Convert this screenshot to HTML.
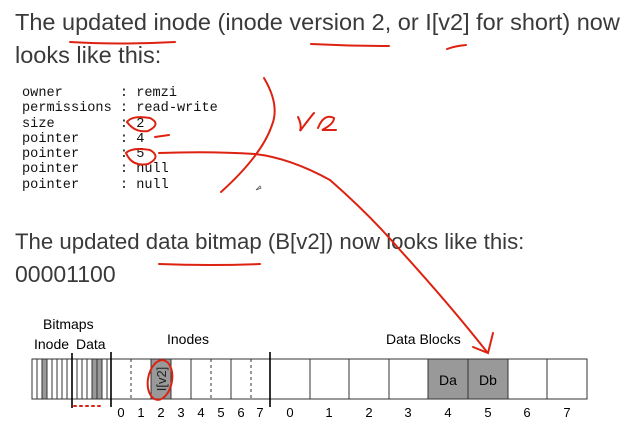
<!DOCTYPE html>
<html><head><style>
body{margin:0;width:624px;height:443px;background:#fff;position:relative;overflow:hidden;font-family:"Liberation Sans",sans-serif;color:#444}
.t{position:absolute;left:15px;white-space:nowrap;color:#3a3a3a}
pre{position:absolute;left:22px;top:86px;margin:0;font-family:"Liberation Mono",monospace;font-size:13.6px;line-height:15.3px;color:#111}
</style></head><body>
<div class="t" style="top:9px;font-size:23.5px">The updated inode (inode version 2, or I[v2] for short) now</div>
<div class="t" style="top:42px;font-size:23.5px">looks like this:</div>
<pre>owner       : remzi
permissions : read-write
size        : 2
pointer     : 4
pointer     : 5
pointer     : null
pointer     : null</pre>
<div class="t" style="top:229px;font-size:22.2px">The updated data bitmap (B[v2]) now looks like this:</div>
<div class="t" style="top:261px;font-size:23px">00001100</div>
<svg width="624" height="443" style="position:absolute;left:0;top:0" font-family="Liberation Sans,sans-serif">
<g fill="#000" font-size="14">
<text x="43" y="329">Bitmaps</text>
<text x="34" y="349">Inode</text><text x="76" y="349">Data</text>
<text x="167" y="344">Inodes</text>
<text x="386" y="344">Data Blocks</text>
</g>
<rect x="42" y="359" width="5" height="40" fill="#999"/>
<rect x="92" y="359" width="10" height="40" fill="#999"/>
<rect x="151" y="359" width="20" height="40" fill="#999"/>
<rect x="428" y="359" width="80" height="40" fill="#999"/>
<g stroke="#333" stroke-width="1" fill="none">
<rect x="32" y="359" width="555" height="40"/>
<path d="M37 359v40M42 359v40M47 359v40M52 359v40M57 359v40M62 359v40M67 359v40M77 359v40M82 359v40M87 359v40M92 359v40M97 359v40M102 359v40M107 359v40"/>
<path d="M151 359v40M171 359v40M191 359v40M231 359v40M310 359v40M349 359v40M389 359v40M428 359v40M468 359v40M508 359v40M547 359v40"/>
<path d="M131 359v40M211 359v40M251 359v40" stroke-dasharray="3,3"/>
</g>
<g stroke="#000" stroke-width="1.6"><path d="M72 353v55M111 352v55M270 352v55"/></g>
<text transform="translate(166 379) rotate(-90)" text-anchor="middle" font-size="13" fill="#222">I[v2]</text>
<g font-size="13" fill="#000" text-anchor="middle">
<text x="121" y="417">0</text><text x="141" y="417">1</text><text x="161" y="417">2</text><text x="181" y="417">3</text><text x="201" y="417">4</text><text x="221" y="417">5</text><text x="241" y="417">6</text><text x="260" y="417">7</text>
<text x="290" y="417">0</text><text x="329" y="417">1</text><text x="369" y="417">2</text><text x="408" y="417">3</text><text x="448" y="417">4</text><text x="488" y="417">5</text><text x="527" y="417">6</text><text x="567" y="417">7</text>
</g>
<g font-size="14" fill="#000" text-anchor="middle"><text x="448" y="385">Da</text><text x="488" y="385">Db</text></g>
<g stroke="#d21" stroke-width="2" fill="none" stroke-linecap="round">
<path d="M70 42Q120 45 175 42"/><path d="M311 44Q350 46 389 46"/><path d="M447 49Q455 46 466 45"/>
<path d="M159 264Q210 266 260 264"/>
<path d="M264 78Q280 105 272 125Q262 155 221 192"/>
<path d="M298 117Q302 125 300 131Q312 115 314 113M318 128Q324 113 334 118Q334 124 322 130L336 130"/>
<path d="M127 122Q132 115 150 118Q162 124 148 131Q135 133 127 122"/>
<path d="M155 137L169 135"/>
<path d="M126 153Q132 147 150 150Q162 157 148 164Q132 167 126 153"/>
<path d="M159 153Q210 151 255 154Q290 158 330 180Q370 215 400 250Q450 305 487 352"/>
<path d="M473 347L488 353L493 333"/>
<ellipse cx="160" cy="380" rx="12" ry="20" transform="rotate(10 160 380)"/>
<path d="M74 406h28" stroke-dasharray="2,4"/>
</g>
<path d="M256 190l4-4 1 2z" stroke="#555" fill="none" stroke-width="0.8"/>
</svg>
</body></html>
